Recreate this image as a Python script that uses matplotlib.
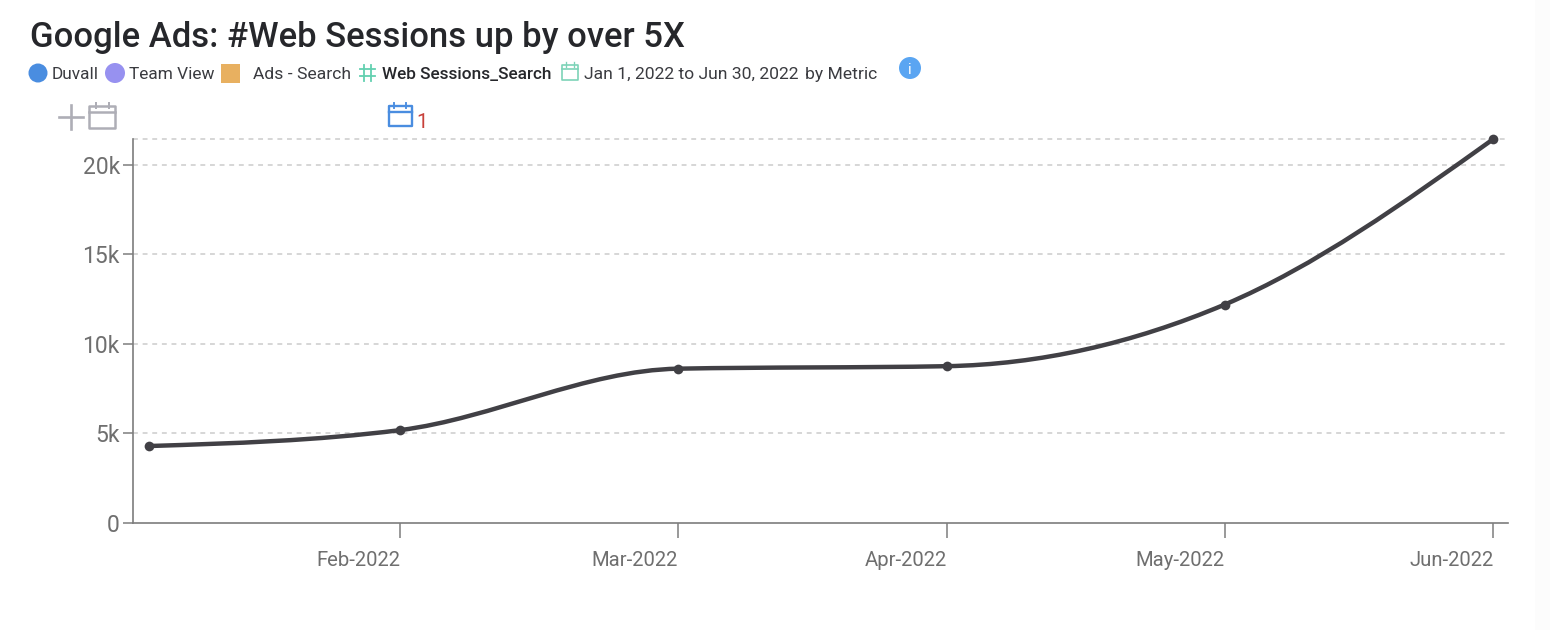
import numpy as np
import pandas as pd
import matplotlib
matplotlib.use("Agg")
import matplotlib.pyplot as plt
import matplotlib.dates as mdates
from matplotlib.path import Path
from matplotlib.patches import PathPatch, Circle, Rectangle

dates = ["2022-01-31", "2022-02-28", "2022-03-31", "2022-04-30", "2022-05-31", "2022-06-30"]
sessions = [4300, 5190, 8620, 8760, 12200, 21450]
x_labels = ["Feb-2022", "Mar-2022", "Apr-2022", "May-2022", "Jun-2022"]
y_ticks = [0, 5000, 10000, 15000, 20000]
y_labels = ["0", "5k", "10k", "15k", "20k"]

W, H = 1550, 630
plt.rcParams["font.family"] = ["Roboto", "DejaVu Sans"]
fig = plt.figure(figsize=(W / 100, H / 100), dpi=100)


def monotone_path(x, y):
    # same idea as d3 curveMonotoneX, one bezier per segment
    h = np.diff(x)
    s = np.diff(y) / h
    m = np.zeros(len(x))
    for i in range(1, len(x) - 1):
        p = (s[i - 1] * h[i] + s[i] * h[i - 1]) / (h[i - 1] + h[i])
        m[i] = (np.sign(s[i - 1]) + np.sign(s[i])) * min(abs(s[i - 1]), abs(s[i]), 0.5 * abs(p))
    m[0] = (3 * s[0] - m[1]) / 2
    m[-1] = (3 * s[-1] - m[-2]) / 2
    verts = [(x[0], y[0])]
    codes = [Path.MOVETO]
    for i in range(len(x) - 1):
        d = h[i] / 3
        verts += [(x[i] + d, y[i] + m[i] * d), (x[i + 1] - d, y[i + 1] - m[i + 1] * d), (x[i + 1], y[i + 1])]
        codes += [Path.CURVE4] * 3
    return Path(verts, codes)


# main chart
ax = fig.add_axes([133 / W, 1 - 523 / H, (1508 - 133) / W, (523 - 139) / H])
xs = mdates.date2num(pd.to_datetime(dates))
ys = np.array(sessions, dtype=float)

px_day = (1493 - 149) / (xs[-1] - xs[0])
ax.set_xlim(xs[0] - 16.4 / px_day, xs[-1] + 14.6 / px_day)
ax.set_ylim(0, max(sessions))

for v in y_ticks[1:] + [max(sessions)]:
    ax.axhline(v, color="#cccccc", lw=1.1, dashes=(3.2, 3.1), zorder=1, clip_on=False)

ax.add_patch(PathPatch(monotone_path(xs, ys), fc="none", ec="#414045", lw=3.2, zorder=3, capstyle="round"))
ax.plot(xs, ys, "o", color="#414045", ms=7, mew=0, zorder=4, clip_on=False)

for side in ["top", "right"]:
    ax.spines[side].set_visible(False)
for side in ["left", "bottom"]:
    ax.spines[side].set_color("#7d7d7d")
    ax.spines[side].set_linewidth(1.2)

ax.set_yticks(y_ticks)
ax.set_yticklabels(y_labels, fontsize=16.5, color="#6f6f6f")
ax.tick_params(axis="y", length=7.5, width=1.1, color="#7d7d7d", pad=2)
ax.set_xticks(xs[1:])
ax.set_xticklabels(x_labels, fontsize=14.6, color="#6f6f6f", ha="right")
ax.tick_params(axis="x", length=11, width=1.1, color="#7d7d7d", pad=9)
ax.patch.set_alpha(0)

# header and icons, in pixel coordinates
ov = fig.add_axes([0, 0, 1, 1], zorder=-1)
ov.set_xlim(0, W)
ov.set_ylim(H, 0)
ov.axis("off")

ov.add_patch(Rectangle((1535, 0), 15, H, fc="#fcfcfc", ec="none"))
ov.text(30, 33.5, "Google Ads: #Web Sessions up by over 5X", fontsize=24.9, fontweight="medium",
        color="#26272b", va="center_baseline")


def cal(x, y, w, h, color, lw=1.6):
    ov.add_patch(Rectangle((x, y), w, h, fc="none", ec=color, lw=lw, joinstyle="round"))
    ov.plot([x, x + w], [y + h * 0.28] * 2, color=color, lw=lw)
    for f in (0.25, 0.75):
        ov.plot([x + w * f] * 2, [y - 3, y + 2], color=color, lw=lw * 0.8)


sub = "#3a3b40"
ov.add_patch(Circle((38, 73), 9.5, fc="#4a8de0", ec="none"))
ov.text(52, 73, "Duvall", fontsize=12.4, color=sub, va="center_baseline")
ov.add_patch(Circle((115, 73), 10, fc="#9791f0", ec="none"))
ov.text(129, 73, "Team View", fontsize=12.4, color=sub, va="center_baseline")
ov.add_patch(Rectangle((221, 64), 19, 19, fc="#e8b060", ec="none"))
ov.text(253, 73, "Ads - Search", fontsize=12.6, color=sub, va="center_baseline")
for px in (364, 371):
    ov.plot([px, px], [65, 81], color="#62d0b0", lw=1.3)
for py in (69, 76):
    ov.plot([360, 375], [py, py], color="#62d0b0", lw=1.3)
ov.text(382, 73, "Web Sessions_Search", fontsize=12.4, fontweight="medium", color="#26272b", va="center_baseline")
cal(562, 65, 16, 15, "#7dd3b8", 1.2)
ov.text(584, 73, "Jan 1, 2022 to Jun 30, 2022", fontsize=12.6, color=sub, va="center_baseline")
ov.text(805, 73, "by Metric", fontsize=12.6, color=sub, va="center_baseline")
ov.add_patch(Circle((910, 68), 11, fc="#5aa5f2", ec="none"))
ov.text(910, 68.5, "i", fontsize=11, color="white", ha="center", va="center_baseline")

ov.plot([59, 83], [117, 117], color="#aeaeb6", lw=1.9)
ov.plot([71, 71], [105, 129], color="#aeaeb6", lw=1.9)
cal(89, 106, 26, 22, "#aeaeb6", 1.8)
cal(388.5, 106, 23, 20, "#4a8de0", 1.7)
ov.text(416, 121, "1", fontsize=14.5, color="#c8403a", va="center_baseline")

fig.savefig("out.png", dpi=100)
